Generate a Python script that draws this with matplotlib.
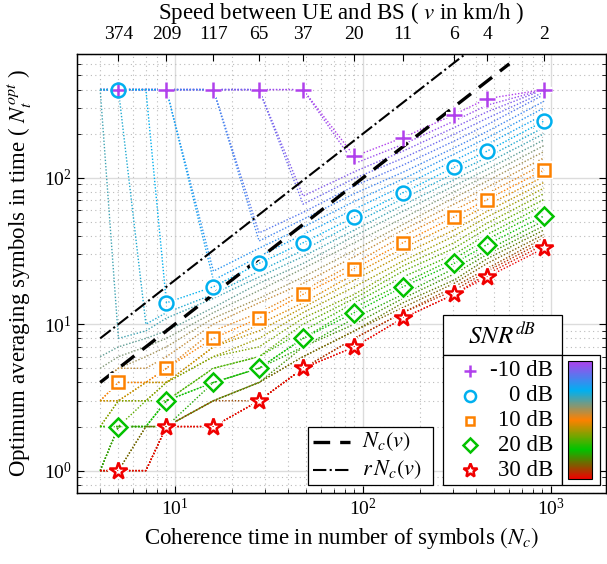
import numpy as np
import matplotlib
matplotlib.use("Agg")
import matplotlib.pyplot as plt
from matplotlib.colors import LinearSegmentedColormap, Normalize
from matplotlib.cm import ScalarMappable
from matplotlib.patches import Rectangle

plt.rcParams["font.family"] = ["Liberation Serif", "DejaVu Serif"]
plt.rcParams["mathtext.fontset"] = "stix"

# coherence time columns (number of symbols) and the speed labels of the top axis
nc_cols = [4, 5, 7, 9, 16, 28, 48, 90, 163, 305, 457, 918]
nc_marks = [5, 9, 16, 28, 48, 90, 163, 305, 457, 918]
speed_labels = ["374", "209", "117", "65", "37", "20", "11", "6", "4", "2"]

# optimum averaging length per SNR (dB)
nt_m10 = [400, 400, 400, 400, 400, 400, 400, 140, 188, 270, 347, 400]
nt_m8p75 = [400, 400, 400, 400, 400, 400, 400, 125, 169, 244, 313, 400]
nt_m7p5 = [400, 400, 400, 400, 400, 400, 75, 110, 152, 220, 282, 400]
nt_m6p25 = [400, 400, 400, 400, 400, 400, 66, 99, 136, 198, 255, 385]
nt_m5 = [400, 400, 400, 400, 400, 42, 58, 88, 122, 178, 230, 370]
nt_m3p75 = [400, 400, 400, 400, 400, 37, 52, 78, 109, 160, 207, 333]
nt_m2p5 = [400, 400, 400, 400, 23, 33, 46, 69, 98, 145, 187, 300]
nt_m1p25 = [400, 400, 400, 400, 20, 29, 41, 61, 88, 131, 169, 270]
nt_0 = [400, 400, 400, 14, 18, 26, 36, 54, 79, 118, 152, 244]
nt_1p25 = [400, 400, 10, 12, 16, 23, 32, 49, 72, 107, 138, 221]
nt_2p5 = [400, 8, 9, 11, 15, 21, 29, 44, 65, 97, 126, 200]
nt_3p75 = [6, 7, 8, 9, 13, 19, 26, 40, 59, 88, 114, 182]
nt_5 = [5, 6, 7, 8, 12, 17, 24, 36, 53, 80, 104, 166]
nt_6p25 = [4, 5, 6, 7, 11, 15, 21, 32, 48, 73, 95, 151]
nt_7p5 = [4, 5, 5, 6, 10, 14, 19, 29, 44, 66, 86, 137]
nt_8p75 = [3, 4, 4, 5, 9, 12, 17, 26, 40, 60, 78, 124]
nt_10 = [3, 4, 4, 5, 8, 11, 16, 24, 36, 54, 71, 113]
nt_11p25 = [3, 3, 4, 4, 7, 10, 14, 22, 33, 49, 65, 102]
nt_12p5 = [3, 3, 4, 4, 7, 9, 13, 20, 30, 44, 59, 93]
nt_13p75 = [2, 3, 3, 4, 6, 8, 12, 18, 27, 40, 54, 85]
nt_15 = [2, 3, 3, 4, 6, 7, 11, 16, 25, 36, 49, 78]
nt_16p25 = [2, 2, 3, 3, 5, 6, 10, 15, 23, 33, 45, 71]
nt_17p5 = [2, 2, 2, 3, 5, 6, 9, 14, 21, 30, 41, 65]
nt_18p75 = [2, 2, 2, 3, 4, 5, 8, 13, 19, 28, 38, 60]
nt_20 = [1, 2, 2, 3, 4, 5, 8, 12, 18, 26, 35, 55]
nt_21p25 = [1, 2, 2, 2, 4, 5, 7, 11, 16, 24, 32, 51]
nt_22p5 = [1, 2, 2, 2, 3, 4, 7, 10, 15, 22, 30, 47]
nt_23p75 = [1, 1, 2, 2, 3, 4, 6, 9, 14, 20, 28, 44]
nt_25 = [1, 1, 2, 2, 3, 4, 6, 9, 13, 19, 26, 41]
nt_26p25 = [1, 1, 1, 2, 3, 3, 5, 8, 12, 18, 24, 39]
nt_27p5 = [1, 1, 1, 2, 2, 3, 5, 8, 12, 17, 23, 37]
nt_28p75 = [1, 1, 1, 2, 2, 3, 5, 7, 11, 16, 22, 35]
nt_30 = [1, 1, 1, 2, 2, 3, 5, 7, 11, 16, 21, 33]

field = {
    -10: nt_m10, -8.75: nt_m8p75, -7.5: nt_m7p5, -6.25: nt_m6p25, -5: nt_m5,
    -3.75: nt_m3p75, -2.5: nt_m2p5, -1.25: nt_m1p25, 0: nt_0, 1.25: nt_1p25,
    2.5: nt_2p5, 3.75: nt_3p75, 5: nt_5, 6.25: nt_6p25, 7.5: nt_7p5,
    8.75: nt_8p75, 10: nt_10, 11.25: nt_11p25, 12.5: nt_12p5, 13.75: nt_13p75,
    15: nt_15, 16.25: nt_16p25, 17.5: nt_17p5, 18.75: nt_18p75, 20: nt_20,
    21.25: nt_21p25, 22.5: nt_22p5, 23.75: nt_23p75, 25: nt_25, 26.25: nt_26p25,
    27.5: nt_27p5, 28.75: nt_28p75, 30: nt_30,
}

snr_marks = [-10, 0, 10, 20, 30]
mark_labels = ["-10 dB", "0 dB", "10 dB", "20 dB", "30 dB"]

# reference lines N_c and r N_c
line_nc = [4, 600]
r_factor = 2

colors = ["#b040ec", "#00b0f0", "#ff8000", "#00c400", "#f00000"]
cmap = LinearSegmentedColormap.from_list("snr", list(zip([0, 0.25, 0.5, 0.75, 1.0], colors)))
norm = Normalize(-10, 30)

markers = ["+", "o", "s", "D", "*"]
msizes = [11, 10, 8, 9, 13]

fig = plt.figure(figsize=(6.07, 5.64), dpi=100)
ax = fig.add_axes([76.7 / 607, (564 - 493.3) / 564, (605.6 - 76.7) / 607, (493.3 - 54) / 564])
ax.set_xscale("log")
ax.set_yscale("log")

for snr, vals in field.items():
    ax.plot(nc_cols, vals, linestyle=(0, (1, 1.3)), lw=1.0, color=cmap(norm(snr)), zorder=2)

ax.plot(line_nc, line_nc, "k--", lw=2.4, dashes=(5, 3), zorder=4)
ax.plot(line_nc, [r_factor * v for v in line_nc], "k-.", lw=1.5, zorder=4)

keep = np.isin(nc_cols, nc_marks)
for snr, mk, ms in zip(snr_marks, markers, msizes):
    vals = np.array(field[snr])[keep]
    ax.plot(nc_marks, vals, ls="none", marker=mk, ms=ms, mfc="none", mec="white", mew=4.5, zorder=5)
    ax.plot(nc_marks, vals, ls="none", marker=mk, ms=ms, mfc="none", mec=cmap(norm(snr)), mew=1.8, zorder=6)

ax.set_xlim(3, 1950)
ax.set_ylim(0.7, 700)
ax.grid(True, which="major", color="#dcdcdc", lw=1.0, zorder=0)
ax.grid(True, which="minor", color="#bbbbbb", lw=0.8, ls=(0, (1, 3)), zorder=0)
ax.set_axisbelow(True)
ax.tick_params(which="both", direction="in", top=True, right=True, labelsize=14)
ax.tick_params(which="major", length=5, width=0.8)
ax.tick_params(which="minor", length=3, width=0.6)
for s in ax.spines.values():
    s.set_linewidth(1.0)
ax.set_xlabel("Coherence time in number of symbols $(N_c)$", fontsize=16.5, labelpad=4)

top = ax.twiny()
top.set_xscale("log")
top.set_xlim(ax.get_xlim())
top.set_xticks(nc_marks)
top.set_xticklabels(speed_labels)
top.xaxis.set_minor_locator(matplotlib.ticker.NullLocator())
top.tick_params(direction="in", labelsize=14, length=5, pad=8)
top.set_xlabel("Speed between UE and BS ( $v$ in km/h )", fontsize=16.5, labelpad=5)

fig.text(20 / 607, 1 - 273 / 564, "Optimum averaging symbols in time ( $N_t^{opt}$ )",
         rotation=90, ha="center", va="center", fontsize=16.5)

# legend boxes drawn on a pixel overlay
ov = fig.add_axes([0, 0, 1, 1], zorder=10)
ov.set_xlim(0, 607)
ov.set_ylim(564, 0)
ov.axis("off")
for (x0, y0, w, h) in [(443.3, 315, 118.4, 40), (443.3, 355, 118.4, 130), (561.7, 355, 38.3, 130), (308.3, 426.7, 125, 58.3)]:
    ov.add_patch(Rectangle((x0, y0), w, h, fc="white", ec="black", lw=0.9))
ov.text(502.5, 336, "$SNR^{dB}$", ha="center", va="center", fontsize=18)
for i, (snr, mk, ms, lab) in enumerate(zip(snr_marks, markers, msizes, mark_labels)):
    yy = 370.7 + 24.9 * i
    ov.plot([470], [yy], marker=mk, ms=ms * 0.8, mfc="none", mec=cmap(norm(snr)), mew=1.8)
    ov.text(553, yy, lab, ha="right", va="center", fontsize=16.5)
ov.plot([313, 350], [442, 442], "k--", lw=2.4, dashes=(5, 3))
ov.plot([313, 350], [470, 470], "k-.", lw=1.5)
ov.text(362, 442, "$N_c(v)$", ha="left", va="center", fontsize=16)
ov.text(362, 470, "$r\\,N_c(v)$", ha="left", va="center", fontsize=16)

cax = fig.add_axes([568.3 / 607, (564 - 479) / 564, 23.4 / 607, 118 / 564], zorder=11)
cb = fig.colorbar(ScalarMappable(norm=norm, cmap=cmap), cax=cax, ticks=[])
cax.invert_yaxis()
cb.outline.set_linewidth(0.8)

fig.savefig("out.png", dpi=100)
